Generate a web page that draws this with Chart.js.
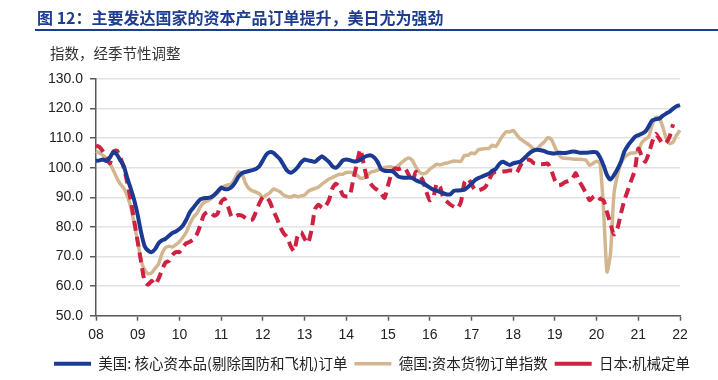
<!DOCTYPE html>
<html><head><meta charset="utf-8">
<script src="https://cdn.jsdelivr.net/npm/chart.js@4.4.1/dist/chart.umd.min.js"></script>
<style>
html,body{margin:0;padding:0;background:#fff;}
#wrap{position:relative;width:718px;height:380px;overflow:hidden;}
canvas{position:absolute;left:0;top:0;}
#title{position:absolute;left:37px;top:5px;font:bold 16px "Noto Sans CJK SC";color:#1f3d8f;white-space:nowrap;line-height:24px;}
#rule{position:absolute;left:35px;top:29px;width:683px;height:2px;background:#1f3d8f;}
#sub{position:absolute;left:50px;top:42px;font:14.5px "Noto Sans CJK SC";color:#333;white-space:nowrap;line-height:22px;}
</style></head>
<body>
<div id="wrap">
<canvas id="c" width="718" height="380"></canvas>
<div id="title">图 12：主要发达国家的资本产品订单提升，美日尤为强劲</div>
<div id="rule"></div>
<div id="sub">指数，经季节性调整</div>
</div>
<script>
const years = ['08','09','10','11','12','13','14','15','16','17','18','19','20','21','22'];
const seriesNames = ['美国: 核心资本品(剔除国防和飞机)订单','德国:资本货物订单指数','日本:机械定单'];
const usOrders = [102.3,102.5,102.8,102.3,103.5,105.3,104.5,102.5,100.5,96.5,93,89,
84,78,73.5,72,71.5,72.5,74.5,75.5,76,77,78,78.5,
79.3,80.5,82.5,85,86.5,88,89.3,89.7,89.8,90,90.8,92,
93.3,92.8,92.8,93.5,95,97,98.2,98.6,98.9,99.2,99.6,100.5,
102.5,104.5,105.3,105.1,104,102.8,100.8,99,98.3,99,100.2,101.8,
102.8,102.5,102.3,102,103,103.9,103,102,100.5,100,101,102.5,
102.8,102.6,102.2,102.2,102.6,103.5,104,104.2,103.5,102,99.6,99,
98.9,98.9,98.2,97,96.7,96.6,96.7,96.5,95.8,95.3,94.8,94.1,
93.3,92.6,92.3,91.8,91.4,91,91.1,92.2,92.3,92.4,92.6,93.5,
94.6,95.8,96.5,97,97.5,98,99,99.6,101.2,102,101.5,100.9,
101.5,101.8,102,103,104.2,105.2,105.9,106.1,105.9,105.6,105.1,104.9,
104.8,105.1,105,105,105.2,105.5,105.4,105.1,105.1,105.1,105.2,105.3,
105.2,103.5,100.8,97.5,96,97.5,99.5,102,105.5,107.5,109,110.4,
111,111.5,112.2,114,116,116.4,116.6,117.5,118.3,119,120,120.8,
121.2];
const deOrders = [105.7,105,104.2,103.1,101.5,99.1,96.5,94.5,93,90.5,86.7,81,
75,68.5,65.5,64.2,64.5,66,67.5,71,73,73.5,73.2,74,
75,76.5,78.3,81,83.3,84.5,86.8,88.2,88.8,89.5,90.5,91.5,
93,93.8,94.2,94.6,96.5,98.6,98,94.8,93,92.2,91.8,91.2,
90,90.8,91.5,92.8,92.4,91.8,90.8,90.3,90.1,90.6,90.2,90.5,
90.8,92,92.6,93,93.5,94.5,95.3,96.2,96.7,97.3,97.8,97.8,
98.4,98.5,98.2,97.6,96.5,96.6,97.5,98.5,98.8,99.2,99.7,100.1,
100.3,100.3,99.8,100.8,101.8,102.8,103.3,102.5,100.3,98.6,98,98.3,
99.5,100.4,101.2,101,101.4,101.6,102,102.3,102.2,102.2,104.2,104.2,
105,104.8,106.1,106.3,106.5,106.5,107.6,107.2,109,110.8,112.2,112.1,
112.6,111.2,109.8,109,108.2,107.3,106.2,106.5,107.8,108.8,110.2,109.5,
107,104.6,103.4,103.2,103.1,103,102.9,102.9,102.8,102.5,100.8,101.5,
102.2,101.5,86,64.8,71,91,97.5,101.4,103.5,104.5,105,105,
105.7,108.5,109.6,110.5,114.5,117,116.8,114,110,108.2,108.7,111,
112.7];
const jpOrders = [107.5,107,105.5,103.5,101.5,105.5,105.8,103.5,100,95,89,82,
75,68,61.5,60.5,61.8,60.5,62.5,65.5,68,68.5,70.5,71.5,
71.5,73.2,74.5,75,75.8,77.5,80.5,84,85,84.8,83.8,84.5,
88.5,89.5,86.8,83.5,83.5,84,83.8,83,82.2,82.5,85,88,
90,90,88.5,85.5,83,80,77.8,76.5,73.5,71.8,77,78.3,
76,74.5,79,86,87.5,86.5,87,89,93,94.6,93.5,90.8,
90.3,90.5,96,101,106.2,101.4,96.3,94.6,93.3,92.4,91.3,89.8,
94,98,99.8,99.5,100,99.6,97.5,95.2,98.6,97.5,95.8,92,
89,89.8,94.6,93.5,89.5,88.5,87.5,86.8,86.3,88.5,95,96.3,
94.6,92.5,92.4,92.8,93.5,95.8,98,98.6,98.6,98.7,98.8,99.1,
99,98.3,100.5,102.3,102.8,102.5,101.5,101.2,101.2,101.3,101.4,99.1,
95.8,94.1,94.4,95.2,95.5,96.2,98.2,95.5,93.5,91.3,89,90.1,
90.7,89.5,89,85,81.1,77.5,79.5,84.5,89,92.4,95.8,99.1,
106.5,104,102,104.8,108.7,111.5,109.9,108.2,108.5,110.5,114.7];
const yTickValues = [50,60,70,80,90,100,110,120,130];

const months = [];
for (let y = 0; y < years.length; y++) {
  const nm = (y === years.length - 1) ? 1 : 12;
  for (let m = 1; m <= nm; m++) months.push(years[y] + '-' + m);
}

const axisColor = '#5a5a5a';
new Chart(document.getElementById('c'), {
  type: 'line',
  data: {
    labels: months,
    datasets: [
      {label: seriesNames[0], data: usOrders, borderColor: '#1b3a93', backgroundColor: '#1b3a93', borderWidth: 4, pointRadius: 0, pointStyle: 'line', tension: 0.2, order: 1},
      {label: seriesNames[1], data: deOrders, borderColor: '#d3b68f', backgroundColor: '#d3b68f', borderWidth: 3.5, pointRadius: 0, pointStyle: 'line', tension: 0.2, order: 3},
      {label: seriesNames[2], data: jpOrders, borderColor: '#cf2140', backgroundColor: '#cf2140', borderWidth: 4, borderDash: [10, 6], pointRadius: 0, pointStyle: 'line', tension: 0.2, order: 2}
    ]
  },
  options: {
    responsive: false,
    animation: false,
    devicePixelRatio: 1,
    layout: {padding: {top: 79, left: 26, right: 0, bottom: -1}},
    font: {family: 'Liberation Sans'},
    plugins: {
      tooltip: {enabled: false},
      legend: {
        position: 'bottom',
        labels: {
          usePointStyle: true,
          pointStyleWidth: 37,
          boxWidth: 37,
          padding: 7,
          color: '#222',
          font: {family: 'Noto Sans CJK SC', size: 14.5},
          sort: (a, b) => a.datasetIndex - b.datasetIndex
        }
      }
    },
    scales: {
      x: {
        type: 'category',
        offset: false,
        grid: {drawOnChartArea: false, drawTicks: true, tickLength: 5, tickWidth: 1.5,
               tickColor: (ctx) => (ctx.index % 12 === 0 ? axisColor : 'rgba(0,0,0,0)')},
        border: {display: true, color: axisColor, width: 1.5},
        ticks: {autoSkip: false, maxRotation: 0, padding: 6, color: '#222',
                font: {family: 'Liberation Sans', size: 14},
                callback: (v, i) => (i % 12 === 0 ? years[i / 12] : '')}
      },
      y: {
        min: 50, max: 130,
        afterFit: (s) => { s.width = 70; },
        afterBuildTicks: (s) => { s.ticks = yTickValues.map(v => ({value: v})); },
        grid: {color: '#e2e2e2', lineWidth: 1.5, tickColor: axisColor, tickLength: 6, tickWidth: 1.5},
        border: {display: true, color: axisColor, width: 1.5},
        ticks: {padding: 7, color: '#222', font: {family: 'Liberation Sans', size: 14},
                callback: (v) => Number(v).toFixed(1)}
      },
      yR: {
        position: 'right',
        display: true,
        afterFit: (s) => { s.width = 38; },
        grid: {display: false},
        border: {display: false},
        ticks: {display: false}
      }
    }
  }
});
</script>
</body></html>
